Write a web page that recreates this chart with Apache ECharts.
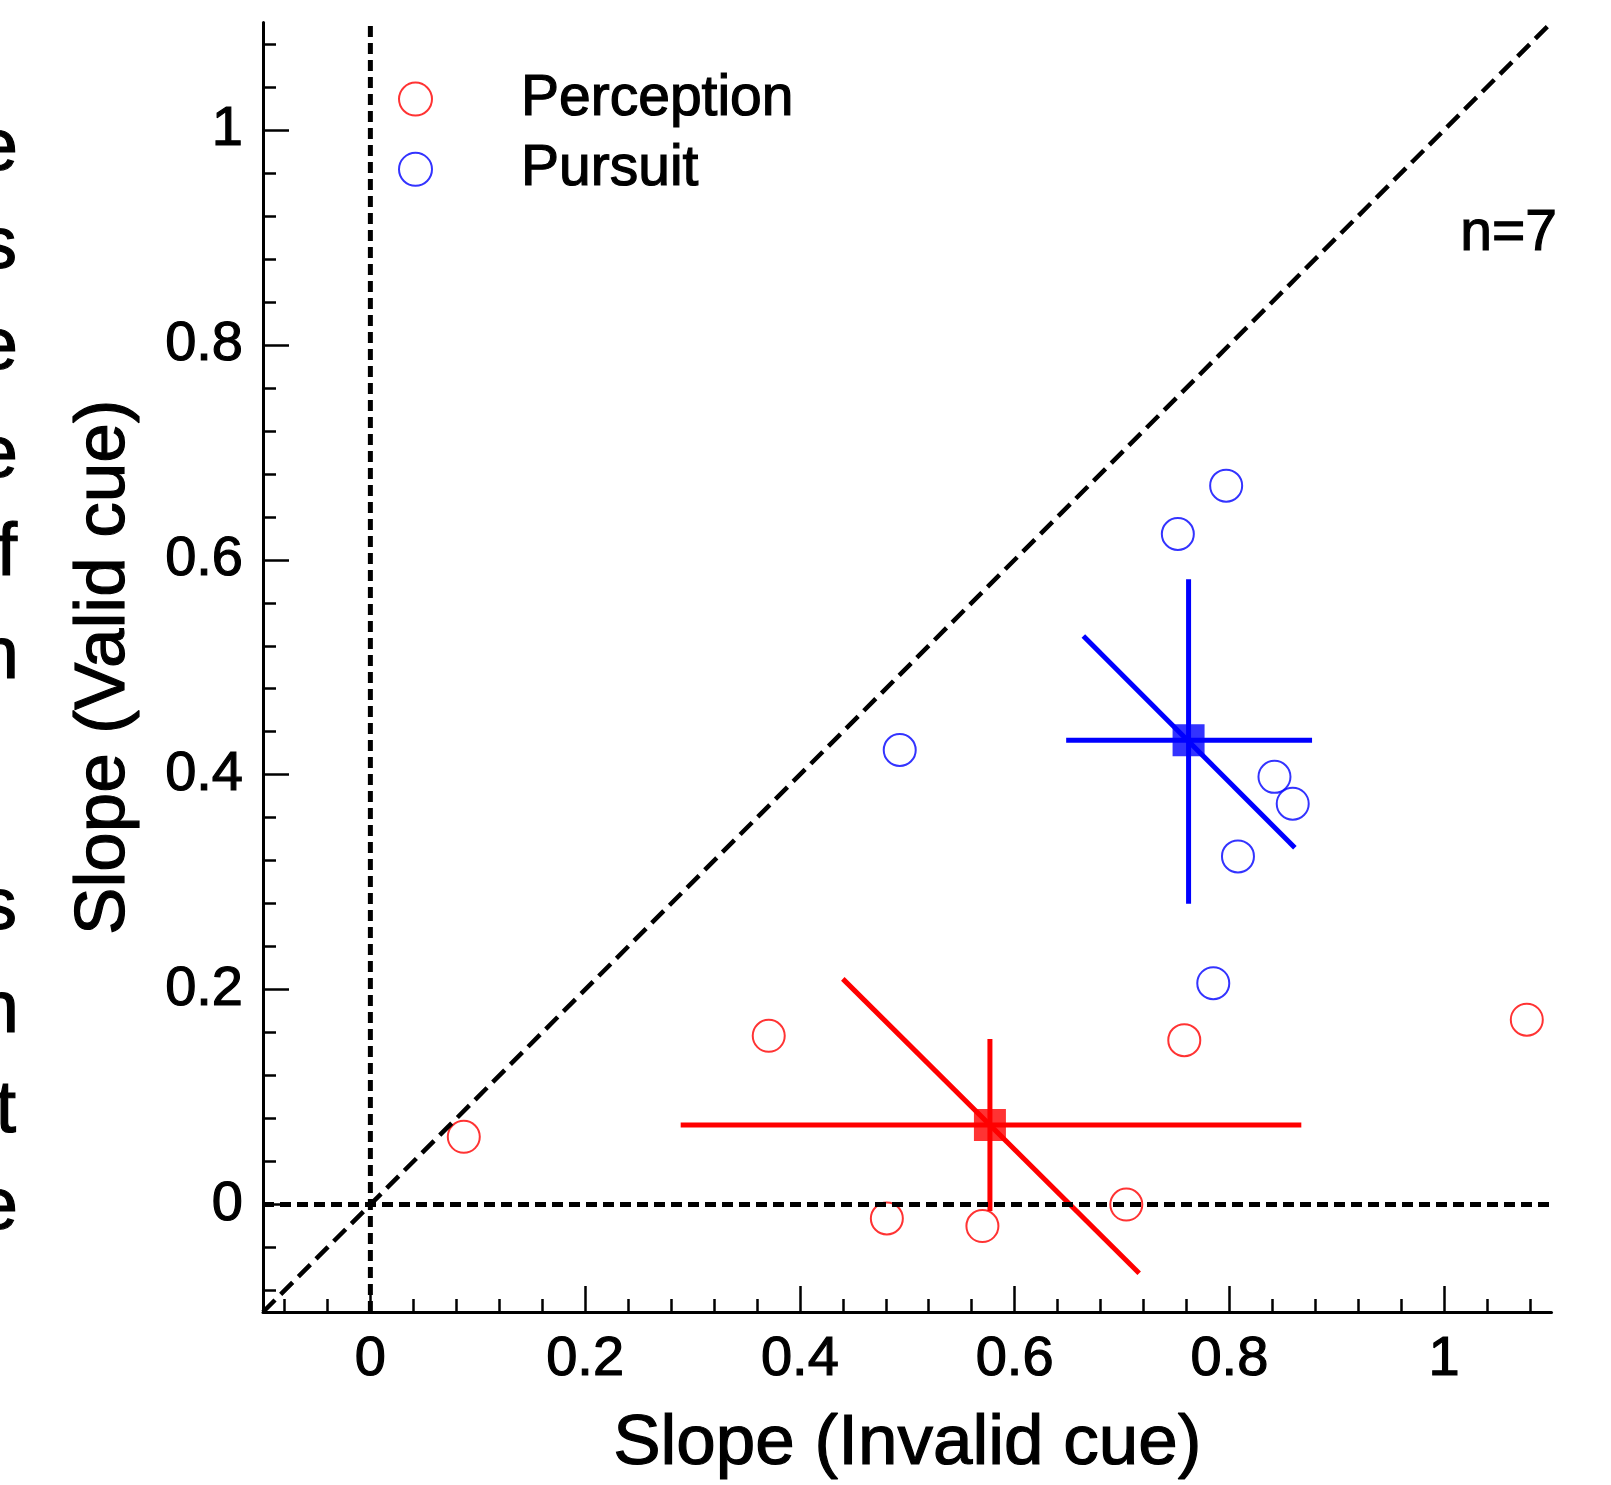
<!DOCTYPE html>
<html>
<head>
<meta charset="utf-8">
<script src="https://cdn.jsdelivr.net/npm/echarts@6/dist/echarts.min.js"></script>
<style>
html,body{margin:0;padding:0;background:#fff;}
#chart{width:1611px;height:1485px;}
</style>
</head>
<body>
<div id="chart"></div>
<script>
// ---- data ----
const perceptionX = [0.087, 0.371, 0.481, 0.570, 0.704, 0.758, 1.077];
const perceptionY = [0.063, 0.157, -0.013, -0.020, 0.000, 0.153, 0.172];
const pursuitX = [0.493, 0.752, 0.797, 0.842, 0.859, 0.808, 0.785];
const pursuitY = [0.423, 0.624, 0.669, 0.398, 0.373, 0.324, 0.206];

const perceptionMean = [0.577, 0.074];
const perceptionXRange = [0.289, 0.867];
const perceptionYRange = [-0.006, 0.154];
const perceptionDiag = [[0.440, 0.210], [0.716, -0.064]];

const pursuitMean = [0.762, 0.432];
const pursuitXRange = [0.648, 0.877];
const pursuitYRange = [0.280, 0.582];
const pursuitDiag = [[0.664, 0.529], [0.861, 0.332]];

const axisMin = -0.1, axisMax = 1.1;
const majorTicks = [0, 0.2, 0.4, 0.6, 0.8, 1];
const minorTicks = [-0.08, -0.04, 0.04, 0.08, 0.12, 0.16, 0.24, 0.28, 0.32, 0.36,
  0.44, 0.48, 0.52, 0.56, 0.64, 0.68, 0.72, 0.76, 0.84, 0.88, 0.92, 0.96, 1.04, 1.08];

const seriesNames = ['Perception', 'Pursuit'];
const xAxisName = 'Slope (Invalid cue)';
const yAxisName = 'Slope (Valid cue)';
const annotation = 'n=7';
const sideLetters = ['e', 's', 'e', 'e', 'f', 'n', 's', 'n', 't', 'e'];

// ---- layout ----
const FONT = '"Liberation Sans", Arial, sans-serif';
const sideLetterY = [156, 254, 355, 463, 561, 664, 915, 1018, 1118, 1215];
const sideLetterRight = [18, 17, 18, 18, 17, 19, 17, 19, 16, 18];
const RED = '#ff0000', BLUE = '#0000ff';
const TB = 1.2; // slight stroke to match the heavier reference text

function lineSeries(data, color, width, dash, z) {
  return {
    type: 'line', data: data, xAxisIndex: 0, yAxisIndex: 0,
    symbol: 'none', showSymbol: false, silent: true, animation: false,
    lineStyle: { color: color, width: width, type: dash || 'solid', cap: 'butt' },
    z: z
  };
}

const chart = echarts.init(document.getElementById('chart'), null, { renderer: 'canvas' });

const labelStyle = { color: '#000', fontSize: 56, fontFamily: FONT, margin: 20, textBorderColor: '#000', textBorderWidth: TB };
const nameStyle = { color: '#000', fontSize: 71, fontFamily: FONT, textBorderColor: '#000', textBorderWidth: TB };

const xMajor = {
  type: 'value', min: axisMin, max: axisMax, position: 'bottom',
  axisLine: { show: true, onZero: false, lineStyle: { color: '#000', width: 3 } },
  axisTick: { show: true, inside: true, length: 26, customValues: majorTicks, lineStyle: { color: '#000', width: 2.5 } },
  axisLabel: Object.assign({ show: true, customValues: majorTicks }, labelStyle),
  splitLine: { show: false },
  name: xAxisName, nameLocation: 'middle', nameGap: 97,
  nameTextStyle: nameStyle
};
const xMinor = {
  type: 'value', min: axisMin, max: axisMax, position: 'bottom',
  axisLine: { show: false, onZero: false },
  axisTick: { show: true, inside: true, length: 13, customValues: minorTicks, lineStyle: { color: '#000', width: 2.5 } },
  axisLabel: { show: false }, splitLine: { show: false }
};
const yMajor = {
  type: 'value', min: axisMin, max: axisMax, position: 'left',
  axisLine: { show: true, onZero: false, lineStyle: { color: '#000', width: 3 } },
  axisTick: { show: true, inside: true, length: 26, customValues: majorTicks, lineStyle: { color: '#000', width: 2.5 } },
  axisLabel: Object.assign({ show: true, customValues: majorTicks }, labelStyle),
  splitLine: { show: false },
  name: yAxisName, nameLocation: 'middle', nameGap: 123, nameRotate: 90,
  nameTextStyle: nameStyle
};
const yMinor = {
  type: 'value', min: axisMin, max: axisMax, position: 'left',
  axisLine: { show: false, onZero: false },
  axisTick: { show: true, inside: true, length: 13, customValues: minorTicks, lineStyle: { color: '#000', width: 2.5 } },
  axisLabel: { show: false }, splitLine: { show: false }
};

const graphics = sideLetters.map((ch, i) => ({
  type: 'text', x: sideLetterRight[i], y: sideLetterY[i] - 6, silent: true,
  style: { text: ch, font: '74px ' + FONT, fill: '#000', stroke: '#000', lineWidth: TB, textAlign: 'right', textVerticalAlign: 'middle' }
}));
graphics.push({
  type: 'text', x: 1557, y: 234, silent: true,
  style: { text: annotation, font: '57px ' + FONT, fill: '#000', stroke: '#000', lineWidth: TB, textAlign: 'right', textVerticalAlign: 'middle' }
});

const option = {
  animation: false,
  backgroundColor: '#fff',
  grid: { left: 263, top: 22.5, width: 1288.5, height: 1289.5, outerBoundsMode: 'none', containLabel: false },
  xAxis: [xMajor, xMinor],
  yAxis: [yMajor, yMinor],
  legend: {
    show: true, orient: 'vertical', left: 393, top: 65,
    data: seriesNames, itemWidth: 33, itemHeight: 33, itemGap: 12,
    selectedMode: false,
    textStyle: { color: '#000', fontSize: 57, fontFamily: FONT, padding: [0, 0, 0, 84], textBorderColor: '#000', textBorderWidth: TB }
  },
  graphic: graphics,
  series: [
    {
      name: seriesNames[0], type: 'scatter', xAxisIndex: 0, yAxisIndex: 0,
      data: perceptionX.map((x, i) => [x, perceptionY[i]]),
      symbol: 'emptyCircle', symbolSize: 32,
      itemStyle: { color: RED, borderColor: RED, borderWidth: 2.5 }, z: 3
    },
    {
      name: seriesNames[1], type: 'scatter', xAxisIndex: 0, yAxisIndex: 0,
      data: pursuitX.map((x, i) => [x, pursuitY[i]]),
      symbol: 'emptyCircle', symbolSize: 32,
      itemStyle: { color: BLUE, borderColor: BLUE, borderWidth: 2.5 }, z: 3
    },
    // error bars
    lineSeries([[perceptionXRange[0], perceptionMean[1]], [perceptionXRange[1], perceptionMean[1]]], RED, 5, null, 4),
    lineSeries([[perceptionMean[0], perceptionYRange[0]], [perceptionMean[0], perceptionYRange[1]]], RED, 5, null, 4),
    lineSeries(perceptionDiag, RED, 5, null, 4),
    lineSeries([[pursuitXRange[0], pursuitMean[1]], [pursuitXRange[1], pursuitMean[1]]], BLUE, 5, null, 4),
    lineSeries([[pursuitMean[0], pursuitYRange[0]], [pursuitMean[0], pursuitYRange[1]]], BLUE, 5, null, 4),
    lineSeries(pursuitDiag, BLUE, 5, null, 4),
    {
      type: 'scatter', xAxisIndex: 0, yAxisIndex: 0, data: [perceptionMean], symbol: 'rect', symbolSize: 32,
      itemStyle: { color: RED }, z: 5, silent: true
    },
    {
      type: 'scatter', xAxisIndex: 0, yAxisIndex: 0, data: [pursuitMean], symbol: 'rect', symbolSize: 32,
      itemStyle: { color: BLUE }, z: 5, silent: true
    },
    // reference lines
    lineSeries([[axisMin, axisMin], [axisMax, axisMax]], '#000', 4.5, [17, 8], 6),
    lineSeries([[0, axisMin], [0, axisMax]], '#000', 5, [11, 6], 6),
    lineSeries([[axisMin, 0], [axisMax, 0]], '#000', 5, [11, 6], 6)
  ]
};
chart.setOption(option);
</script>
</body>
</html>
